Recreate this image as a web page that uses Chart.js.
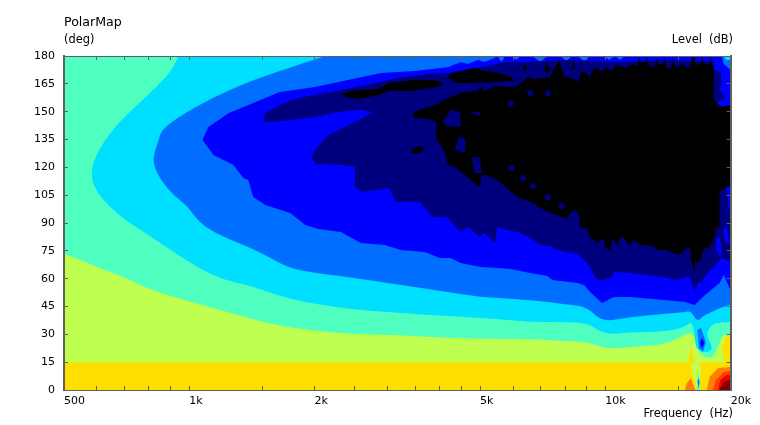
<!DOCTYPE html>
<html>
<head>
<meta charset="utf-8">
<style>body{margin:0;background:#fff}canvas{display:block}</style>
<script src="https://cdn.jsdelivr.net/npm/chart.js@4"></script>
</head>
<body>
<canvas id="polarMap" width="760" height="425"></canvas>
<script>
// axis ticks
const xTickValues = [500,600,700,800,900,1000,1500,2000,2500,3000,3500,4000,4500,5000,6000,7000,8000,9000,10000,15000,20000];
const xTickLabels = {500:'500',1000:'1k',2000:'2k',5000:'5k',10000:'10k',20000:'20k'};

// contour outlines: frequency (Hz) and angle (deg)
const aquaFreq = [500,20000,20000,500];
const aquaDeg = [0,0,180,180];

const limeFreq = [500,558,606,696,798,970,1262,1522,1830,2405,3170,4180,5500,6550,7970,9050,10090,11450,13830,15530,16050,16420,16700,17530,18210,18670,19000,19550,20000,20000,500];
const limeDeg = [73.3,69.5,65.7,60.9,54.4,48.5,41.5,36.1,32.9,30.2,29.6,28,27.5,27.5,26.4,25.9,22.1,23.2,24.2,29.6,31.3,28.6,20.5,17.2,17.8,23.2,28.6,30.7,28.6,0,0];

const yellowFreq = [500,15840,16050,16400,19370,19030,19250,19550,20000,20000,500];
const yellowDeg = [15,15,24,15,15,21.6,25.3,29.6,28.6,0,0];

const cyanFreq = [942,917,844,706,647,606,585,581,599,641,696,798,917,1053,1208,1387,1760,2405,3170,4180,5500,6600,7970,9050,10010,11450,13830,15530,16130,16400,16500,17050,17810,18110,17530,17620,18210,19800,20000,20000];
const cyanDeg = [180,173.5,164.3,148.2,139,129.3,121.2,114.2,106.7,99.1,92.1,83.5,74.4,65.7,59.3,56.6,48.5,43.6,41.5,39.9,38.3,36.6,36.6,36.1,29.6,31.3,31.3,33.9,37.2,29.6,22.6,20.5,20.5,23.2,28.6,32.3,36.1,36.6,36.6,180];

const azureFreq = [2132,2006,1757,1548,1387,1130,942,858,844,821,821,853,917,995,1053,1143,1277,1387,1523,1730,2006,2405,2890,3480,4180,5000,5500,6600,7970,9050,9820,11450,13830,15530,16050,16630,17140,17810,18820,19870,20000,20000];
const azureDeg = [180,178.3,174,169.7,166,157.3,147.1,140.1,134.7,126.6,121.2,113.1,105,98.6,90.5,85.1,80.3,77,72.7,65.7,63,60.9,58.2,55.5,52.8,50.1,49.6,48.5,46.3,44.7,36.6,39.3,41,42,42.6,36.6,39.9,41.5,44.2,45.8,45.8,180];

const blueFreq = [5413,5120,4940,4670,4500,4180,3480,2890,2405,2006,1650,1387,1242,1112,1076,1143,1277,1349,1387,1425,1523,1748,1900,2040,2315,2585,2950,3220,3680,4000,4250,4490,5010,5500,5910,6600,7250,7454,8560,8890,9190,9820,10490,11450,13830,15530,16400,17250,18820,19250,19870,20000,20000,19240,19034,11120,10847,10550,10200,9930,9190,8890,8560,8323,8060,7790,7250,6980,6676,6250,6110,5979,5750,5630,5500];
const blueDeg = [178.9,176.7,177.8,175.7,176.7,174,171.9,170.8,167,163.3,160.6,153.6,149.2,141.7,134.7,126.6,121.2,114.2,113.1,104,99.7,95.4,88.9,86.7,85.1,79.2,78.1,75.4,74.4,71.1,71.1,68.4,66.3,65.7,65.2,63,61.4,59.3,57.7,56.6,52.8,46.9,50.1,50.1,48.5,47.4,45.8,50.6,57.7,62,55,53.9,172.4,175.7,180,180,177.8,180,177.8,180,180,177.3,180,180,177.3,180,180,176.7,180,180,177.8,180,180,176.7,180];

const navyFreq = [1506,1523,1650,1830,2190,2645,3170,3770,4180,4590,5010,5500,5720,6390,6980,8090,9710,10378,11930,13300,18110,18310,18930,19034,18670,19250,19250,18670,19034,19550,19870,20000,20000,19034,18210,17440,17050,16710,16380,15970,15600,14860,13830,12600,11450,10490,10378,9710,9440,9050,8560,7620,7370,6980,6600,6150,5800,5500,5440,5120,4990,4670,4480,4160,3846,3580,3130,3030,2614,2500,2500,2330,2020,1960,2020,2160,2365,2560,2745,2585,2290,2006,1650];
const navyDeg = [144.4,149.2,153.6,157.3,160.6,164.3,168.1,170.3,170.8,172.4,174,175.7,176.7,176.7,177.3,177.8,177.3,176.7,177.3,177.8,177.3,172.4,171.3,164.3,162.7,159,156.3,155.7,107.8,109.4,97,86.2,69,71.1,66.3,62,58.2,57.7,52.8,60.9,60.9,59.3,60.9,62,63,63.6,60.9,58.7,60.9,68.4,73.3,75.4,77.6,78.1,81.9,85.1,86.2,87.8,79.2,84.6,82.4,87.8,85.1,93.2,93.2,101.3,101.3,108.8,106.7,109.4,120.2,121.2,121.8,125,130.4,137.4,141.7,145.5,149.8,150.9,149.8,147.1,144.9];

const blackFreq = [3460,3890,4250,4490,4930,5010,5120,5440,5880,6150,6318,6490,6750,7370,7500,7750,7970,8410,8650,8700,8890,9150,9440,9600,9770,10050,10378,10600,10966,11210,11588,11910,12050,12120,12520,12600,12730,13080,13300,13380,13750,13890,14050,14370,14530,14690,15100,15266,15430,15970,16132,16400,16500,16880,17046,17240,17810,17910,18110,18210,18210,18210,18570,19140,19870,20000,20000,19550,18820,18820,18470,18210,17710,17250,16880,16400,16380,16050,15970,15600,15266,14860,14050,13300,13050,12120,11720,11450,10966,10650,10378,10260,9980,9930,9710,9600,9190,9050,8700,8650,8450,8220,8080,7130,6600,6150,5690,5500,5200,5040,4990,4670,4350,4180,4120,3920,3920,3770,3460];
const blackDeg = [149.8,153.6,157.9,160,161.3,163.3,161.1,163.8,163.3,163.8,166,168.6,167.6,168.6,173,177.3,169.2,167.6,166,170.3,172.4,168.6,174,173,171.7,174,171.7,175.3,174.2,173.5,175.7,174.6,179.3,176.7,176.7,179.3,174.2,174.2,178.9,175.7,175.7,178.9,173.5,173.5,178.9,174.2,174.2,177.1,173.9,173.9,178.9,179.3,175.3,175.3,179.3,175.7,175.7,179.3,175.3,172,161.3,156.8,154.1,152.6,153.7,153,109.4,109.4,106.7,87.8,87.3,80.8,76.5,76,69,69,63,70,76.5,76.5,73.8,72.7,75.4,75.4,77.6,78.1,80.8,78.1,83,78.1,81.9,75.4,76.5,81.4,80.8,79.2,82.4,86.7,87.8,94.3,97,95.4,92.1,97,101.3,104,110.5,113.1,115.8,115.8,109.4,114.2,120.2,121.2,127.7,135.8,144.4,146,146.6];

const stripFreq = [4180,4294,4850,5120,5520,5880,6080,5880,5440,4670,4350];
const stripDeg = [168.6,170.8,173.5,171.9,170.8,169.2,166,166.6,165.9,165.4,165.4];
const longBlobFreq = [2315,2510,2840,3020,3480,3890,4064,3960,3400,3020,2840,2560,2380];
const longBlobDeg = [159.5,161.6,162.2,165.4,167,167,165.4,163.3,161.1,161.1,158.9,156.8,157.9];
const smallBlobFreq = [3400,3580,3680,3580,3444];
const smallBlobDeg = [129.3,131.5,130.4,127.7,127.7];
const diamond1Freq = [6318,6390,6490,6390];
const diamond1Deg = [173.5,175.7,173.5,171.9];
const diamond2Freq = [7130,7250,7370,7250];
const diamond2Deg = [172.4,176.7,172.4,170.3];
const spikeFreq = [8323,8390,8450];
const spikeDeg = [173,179.4,173];

// navy holes in the black area
const hole1Freq = [4064,4250,4480,4490,4180];
const hole1Deg = [144.4,150.9,149.8,141.7,142.2];
const hole2Freq = [4770,4990,4990,4820];
const hole2Deg = [149.8,149.8,147.6,148.7];
const hole3Freq = [4350,4450,4620,4590];
const hole3Deg = [129.3,136.9,134.7,127.7];
const hole4Freq = [4770,4990,5040,4850];
const hole4Deg = [125.5,125.5,116.9,116.9];
const navyDotFreq = [6600,7270,5930,5950,6350,6700,7270,7850];
const navyDotDeg = [160,160,154.6,119.6,114.2,109.9,104,99.1];

// blue holes in the navy edge, right side
const rightHole1Freq = [19250,19550,19870,19550,19250];
const rightHole1Deg = [87.3,88.4,79.7,79.2,83];
const rightHole2Freq = [18470,18820,19034,18930,18470];
const rightHole2Deg = [80.8,82.4,75.4,71.1,75.4];
const cornerFreq = [19240,20000,20000,19470];
const cornerDeg = [180,180,177.8,177.8];

// detail near the bottom right corner
const spotAzureFreq = [16630,16970,17440,17140,16800];
const spotAzureDeg = [32.3,33.4,25.9,20.5,22.6];
const spotBlueFreq = [16880,17060,17310,17060];
const spotBlueDeg = [25.3,28,25.3,22.6];
const spindleLimeFreq = [16060,16880,16970,16880,16700,16530,16130];
const spindleLimeDeg = [15,15,9.7,2.7,0,2.7,9.7];
const spindleAquaFreq = [16700,16880,16880,16620,16620];
const spindleAquaDeg = [9.7,5.4,0,0,5.4];
const spindleBlueFreq = [16740,16840,16740,16660];
const spindleBlueDeg = [6.5,4.3,1.1,4.3];
const moundFreq = [15520,15700,16050,16130,16450];
const moundDeg = [0,3.8,6.5,5.4,0];
const orangeFreq = [17530,17800,18670,20000,20000];
const orangeDeg = [0,7,11.9,12.4,0];
const darkOrangeFreq = [18100,18470,19250,20000,20000];
const darkOrangeDeg = [0,5.4,9.7,10.2,0];
const redFreq = [18670,18880,19550,20000,20000];
const redDeg = [0,5.4,8.1,8.1,0];
const darkRedFreq = [18780,19250,19870,20000,20000];
const darkRedDeg = [0,4.3,5.4,4.3,0];

const AQUA = '#4fffbf', LIME = '#bfff4f', YELLOW = '#ffdf00', CYAN = '#00dfff', AZURE = '#006fff';
const BLUE = '#0000ff', NAVY = '#00007f', BLACK = '#000000';
const TEXT_FONT = '"DejaVu Sans"';
const FRAME = '#606060';

function band(color, freq, deg, smooth) {
    return {
        bandColor: color,
        bandSmooth: !!smooth,
        showLine: false,
        pointRadius: 0,
        data: freq.map((f, i) => ({x: f, y: deg[i]}))
    };
}

const datasets = [
    band(AQUA, aquaFreq, aquaDeg),
    band(LIME, limeFreq, limeDeg, true),
    band(YELLOW, yellowFreq, yellowDeg),
    band(CYAN, cyanFreq, cyanDeg, true),
    band(AZURE, azureFreq, azureDeg, true),
    band(BLUE, blueFreq, blueDeg),
    band(CYAN, cornerFreq, cornerDeg),
    band(NAVY, navyFreq, navyDeg),
    band(BLACK, blackFreq, blackDeg),
    band(BLACK, stripFreq, stripDeg),
    band(BLACK, longBlobFreq, longBlobDeg),
    band(BLACK, smallBlobFreq, smallBlobDeg),
    band(BLACK, diamond1Freq, diamond1Deg),
    band(BLACK, diamond2Freq, diamond2Deg),
    band(BLACK, spikeFreq, spikeDeg),
    band(NAVY, hole1Freq, hole1Deg),
    band(NAVY, hole2Freq, hole2Deg),
    band(NAVY, hole3Freq, hole3Deg),
    band(NAVY, hole4Freq, hole4Deg),
    band(BLUE, rightHole1Freq, rightHole1Deg),
    band(BLUE, rightHole2Freq, rightHole2Deg),
    band(AZURE, spotAzureFreq, spotAzureDeg),
    band(BLUE, spotBlueFreq, spotBlueDeg),
    band(LIME, spindleLimeFreq, spindleLimeDeg),
    band(AQUA, spindleAquaFreq, spindleAquaDeg),
    band(AZURE, spindleBlueFreq, spindleBlueDeg),
    band('#ff7f00', moundFreq, moundDeg),
    band('#ff7f00', orangeFreq, orangeDeg),
    band('#ff3f00', darkOrangeFreq, darkOrangeDeg),
    band('#ef0000', redFreq, redDeg),
    band('#7f0000', darkRedFreq, darkRedDeg),
    {
        showLine: false,
        pointRadius: 3,
        pointBorderWidth: 0,
        pointBackgroundColor: NAVY,
        data: navyDotFreq.map((f, i) => ({x: f, y: navyDotDeg[i]}))
    }
];

// fills each contour outline, points are placed by the chart scales
const bandFill = {
    id: 'bandFill',
    beforeDatasetsDraw(chart) {
        const ctx = chart.ctx;
        const area = chart.chartArea;
        const onEdge = p => p.x <= area.left + 1 || p.x >= area.right - 1 || p.y <= area.top + 1 || p.y >= area.bottom - 1;
        ctx.save();
        ctx.beginPath();
        ctx.rect(area.left, area.top, area.width, area.height);
        ctx.clip();
        chart.data.datasets.forEach((ds, i) => {
            if (!ds.bandColor) return;
            const pts = chart.getDatasetMeta(i).data;
            ctx.beginPath();
            pts.forEach((p, j) => {
                if (j === 0) {
                    ctx.moveTo(p.x, p.y);
                } else if (ds.bandSmooth && !onEdge(p)) {
                    const next = pts[(j + 1) % pts.length];
                    ctx.quadraticCurveTo(p.x, p.y, (p.x + next.x) / 2, (p.y + next.y) / 2);
                } else {
                    ctx.lineTo(p.x, p.y);
                }
            });
            ctx.closePath();
            ctx.fillStyle = ds.bandColor;
            ctx.fill();
        });
        ctx.restore();
    }
};

const cornerLabels = {
    id: 'cornerLabels',
    afterDraw(chart) {
        const ctx = chart.ctx;
        ctx.save();
        ctx.fillStyle = '#000';
        ctx.textBaseline = 'alphabetic';
        ctx.textAlign = 'left';
        ctx.font = '12.6px ' + TEXT_FONT;
        ctx.fillText('PolarMap', 64, 26);
        ctx.font = '11.4px ' + TEXT_FONT;
        ctx.fillText('(deg)', 64, 43);
        ctx.textAlign = 'right';
        ctx.fillText('Level  (dB)', 733, 43);
        ctx.fillText('Frequency  (Hz)', 733, 417);
        ctx.restore();
    }
};

function edgeGrid() {
    return {drawOnChartArea: false, tickLength: -4, tickColor: FRAME, tickWidth: 1, z: 2};
}

function edgeBorder(width) {
    return {color: FRAME, width: width, z: 2};
}

function useFreqTicks(scale) {
    scale.ticks = xTickValues.map(v => ({value: v}));
}

new Chart(document.getElementById('polarMap'), {
    type: 'scatter',
    data: {datasets: datasets},
    plugins: [bandFill, cornerLabels],
    options: {
        responsive: false,
        animation: false,
        events: [],
        plugins: {legend: {display: false}, tooltip: {enabled: false}},
        scales: {
            x: {
                type: 'logarithmic', position: 'bottom', min: 500, max: 20000,
                afterBuildTicks: useFreqTicks,
                afterFit: s => { s.height = 35; },
                grid: edgeGrid(), border: edgeBorder(1),
                ticks: {
                    autoSkip: false, maxRotation: 0, minRotation: 0, align: 'start',
                    padding: 9, color: '#000', font: {family: TEXT_FONT, size: 11},
                    callback: v => xTickLabels[v] || ''
                }
            },
            x2: {
                type: 'logarithmic', position: 'top', min: 500, max: 20000,
                afterBuildTicks: useFreqTicks,
                afterFit: s => { s.height = 56; },
                grid: edgeGrid(), border: edgeBorder(1),
                ticks: {display: false}
            },
            y: {
                position: 'left', min: 0, max: 180,
                afterFit: s => { s.width = 64; },
                grid: edgeGrid(), border: edgeBorder(2),
                ticks: {stepSize: 15, padding: 13, color: '#000', font: {family: TEXT_FONT, size: 11}}
            },
            y2: {
                position: 'right', min: 0, max: 180,
                afterFit: s => { s.width = 26; },
                grid: edgeGrid(), border: edgeBorder(2),
                ticks: {stepSize: 15, display: false}
            }
        }
    }
});
</script>
</body>
</html>
